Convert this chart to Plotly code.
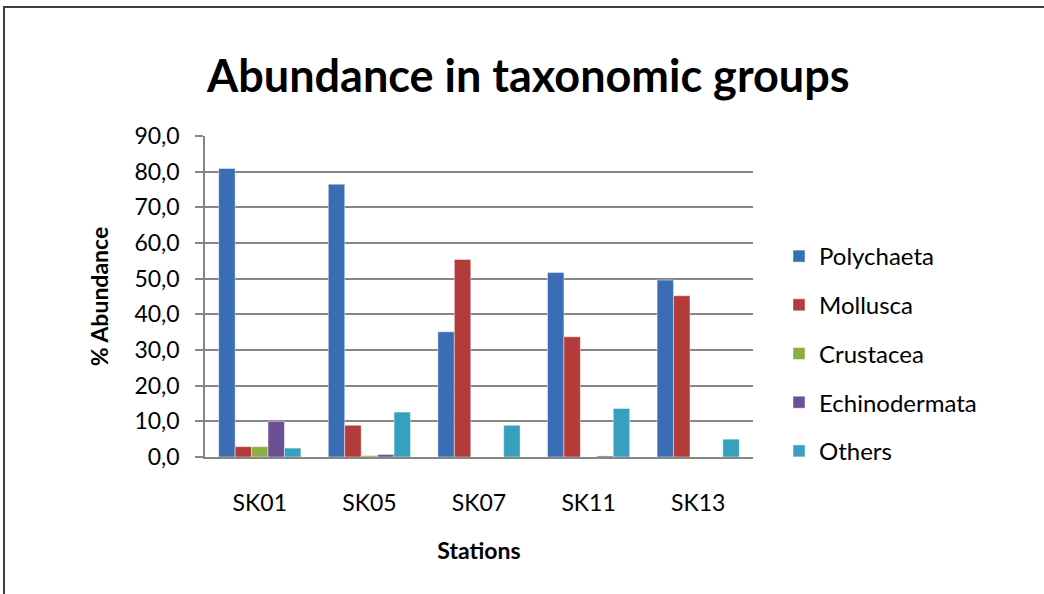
import plotly.graph_objects as go

# Sampling stations and taxonomic groups (% abundance)
stations = ["SK01", "SK05", "SK07", "SK11", "SK13"]
polychaeta = [80.9, 76.5, 35.1, 51.7, 49.6]
mollusca = [2.9, 8.9, 55.4, 33.7, 45.2]
crustacea = [2.9, 0.4, 0.0, 0.0, 0.0]
echinodermata = [10.0, 0.7, 0.0, 0.3, 0.0]
others = [2.5, 12.6, 8.9, 13.6, 5.0]

group_names = ["Polychaeta", "Mollusca", "Crustacea", "Echinodermata", "Others"]
group_values = [polychaeta, mollusca, crustacea, echinodermata, others]
group_colors = ["#3A6DB3", "#B33B3A", "#8BAF45", "#6C5094", "#36A0BE"]

y_ticks = [0, 10, 20, 30, 40, 50, 60, 70, 80, 90]
y_tick_text = [f"{v:.1f}".replace(".", ",") for v in y_ticks]

FONT = "Lato, 'Open Sans', sans-serif"

fig = go.Figure()
for name, vals, col in zip(group_names, group_values, group_colors):
    fig.add_trace(go.Bar(
        name=name, x=stations, y=vals, legendgroup=name,
        marker=dict(color=col, line=dict(color="rgba(255,255,255,0.45)", width=1)),
    ))

# plot area: x 205..753, y 136..457 in a 1044x594 page
L, R, T, B = 205, 1044 - 753, 136, 594 - 457
W, H = 1044 - L - R, 594 - T - B

def px(x):
    return (x - L) / W

def py(y):
    return (594 - B - y) / H

fig.update_layout(
    width=1044, height=594,
    margin=dict(l=L, r=R, t=T, b=B, autoexpand=False),
    paper_bgcolor="white", plot_bgcolor="white",
    barmode="group", bargap=0.25, bargroupgap=0,
    font=dict(family=FONT, color="#000000"),
    showlegend=True,
    legend=dict(
        x=px(779), y=py(234), xanchor="left", yanchor="top",
        font=dict(size=24, family=FONT, color="#000000"),
        tracegroupgap=14.5, itemwidth=30, bgcolor="rgba(0,0,0,0)",
    ),
    xaxis=dict(
        showline=True, linecolor="#868686", linewidth=1.5,
        ticks="", tickfont=dict(size=23, family=FONT, color="#000000"),
        ticklabelstandoff=25,
        title=dict(text="<b>Stations</b>", font=dict(size=23, family=FONT), standoff=28),
    ),
    yaxis=dict(
        range=[0, 90], tickvals=y_ticks, ticktext=y_tick_text,
        showline=True, linecolor="#868686", linewidth=1.5,
        showgrid=True, gridcolor="#868686", gridwidth=1.5,
        ticks="outside", ticklen=8, tickcolor="#868686", tickwidth=1.5,
        tickfont=dict(size=23, family=FONT, color="#000000"),
        ticklabelstandoff=11, zeroline=False,
        title=dict(text="<b>% Abundance</b>", font=dict(size=23, family=FONT), standoff=19),
    ),
    shapes=[dict(
        type="rect", xref="paper", yref="paper",
        x0=px(4), y0=py(610), x1=px(1060), y1=py(7),
        line=dict(color="#3C3C3C", width=2), fillcolor="rgba(0,0,0,0)", layer="below",
    )],
    annotations=[dict(
        text="<b>Abundance in taxonomic groups</b>", xref="paper", yref="paper",
        x=px(528), y=py(75), xanchor="center", yanchor="middle", showarrow=False,
        font=dict(size=45, family=FONT, color="#000000"),
    )],
)

fig.write_html("out.html")
